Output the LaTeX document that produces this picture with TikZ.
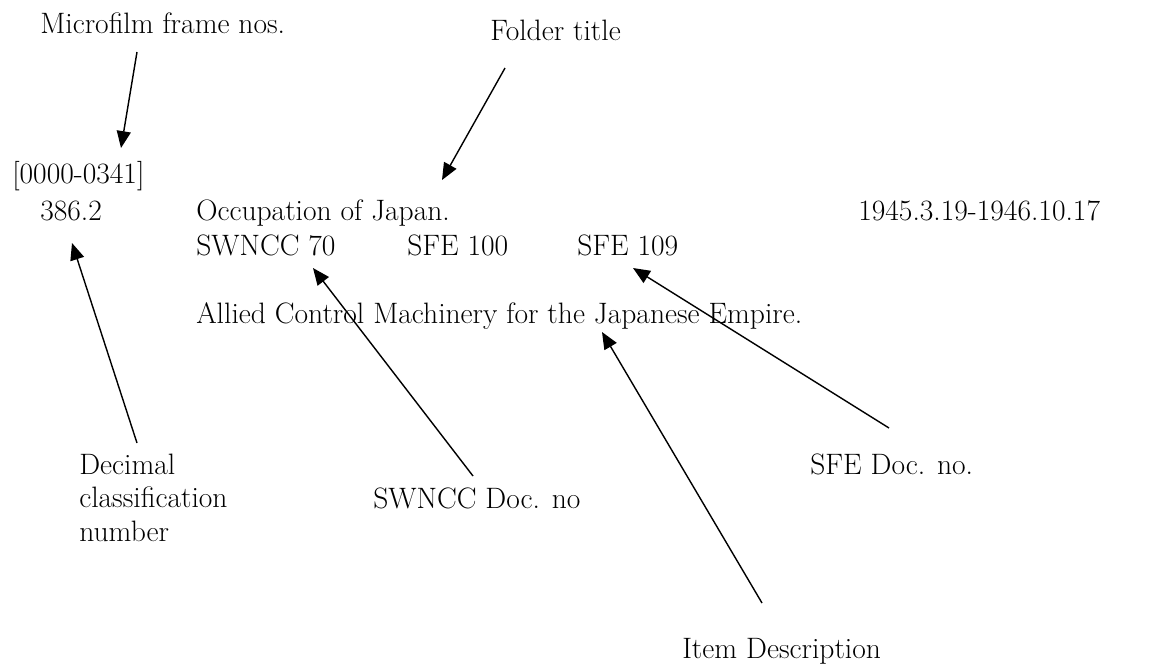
\documentclass[tikz,border=0pt]{standalone}
\usetikzlibrary{arrows.meta}
\tikzset{
  lbl/.style={anchor=base west,inner sep=0pt,font=\fontsize{21}{23.5}\selectfont},
  pointer/.style={line width=1pt,-{Triangle[length=12pt,width=10pt]}}
}
\begin{document}
\begin{tikzpicture}[x=0.025cm,y=-0.025cm]
        \useasboundingbox (0,0) rectangle (1150,666);
        % the catalogue entry
        \node[lbl] (frames) at (12,183){[0000-0341]};
        \node[lbl] (decno) at (40,220){386.2};
        \node[lbl] (title) at (196,220){Occupation of Japan.};
        \node[lbl] (dates) at (858,220){1945.3.19-1946.10.17};
        \node[lbl] (swncc) at (196,255){SWNCC 70};
        \node[lbl] (sfea) at (407,255){SFE 100};
        \node[lbl] (sfeb) at (577,255){SFE 109};
        \node[lbl] (item) at (196,323){Allied Control Machinery for the Japanese Empire.};
        % the captions
        \node[lbl,align=left] (deccap) at (79,541){Decimal\\classification\\number};
        \node[lbl] (mfcap) at (40,33){Microfilm frame nos.};
        \node[lbl] (ftcap) at (490,40){Folder title};
        \node[lbl] (swcap) at (373,508){SWNCC Doc. no};
        \node[lbl] (sfecap) at (810,474){SFE Doc. no.};
        \node[lbl] (itcap) at (682,658){Item Description};
        % arrow ends
        \coordinate (mfa) at (137,52);   \coordinate (mfb) at (121,148);
        \coordinate (fta) at (505,68);   \coordinate (ftb) at (442,180);
        \coordinate (deca) at (137,443); \coordinate (decb) at (72,243);
        \coordinate (swa) at (473,476);  \coordinate (swb) at (313,268);
        \coordinate (ita) at (762,603);  \coordinate (itb) at (602,332);
        \coordinate (sfa) at (889,428);  \coordinate (sfb) at (633,268);
        \draw[pointer] (mfa) -- (mfb);
        \draw[pointer] (fta) -- (ftb);
        \draw[pointer] (deca) -- (decb);
        \draw[pointer] (swa) -- (swb);
        \draw[pointer] (ita) -- (itb);
        \draw[pointer] (sfa) -- (sfb);
\end{tikzpicture}
\end{document}
